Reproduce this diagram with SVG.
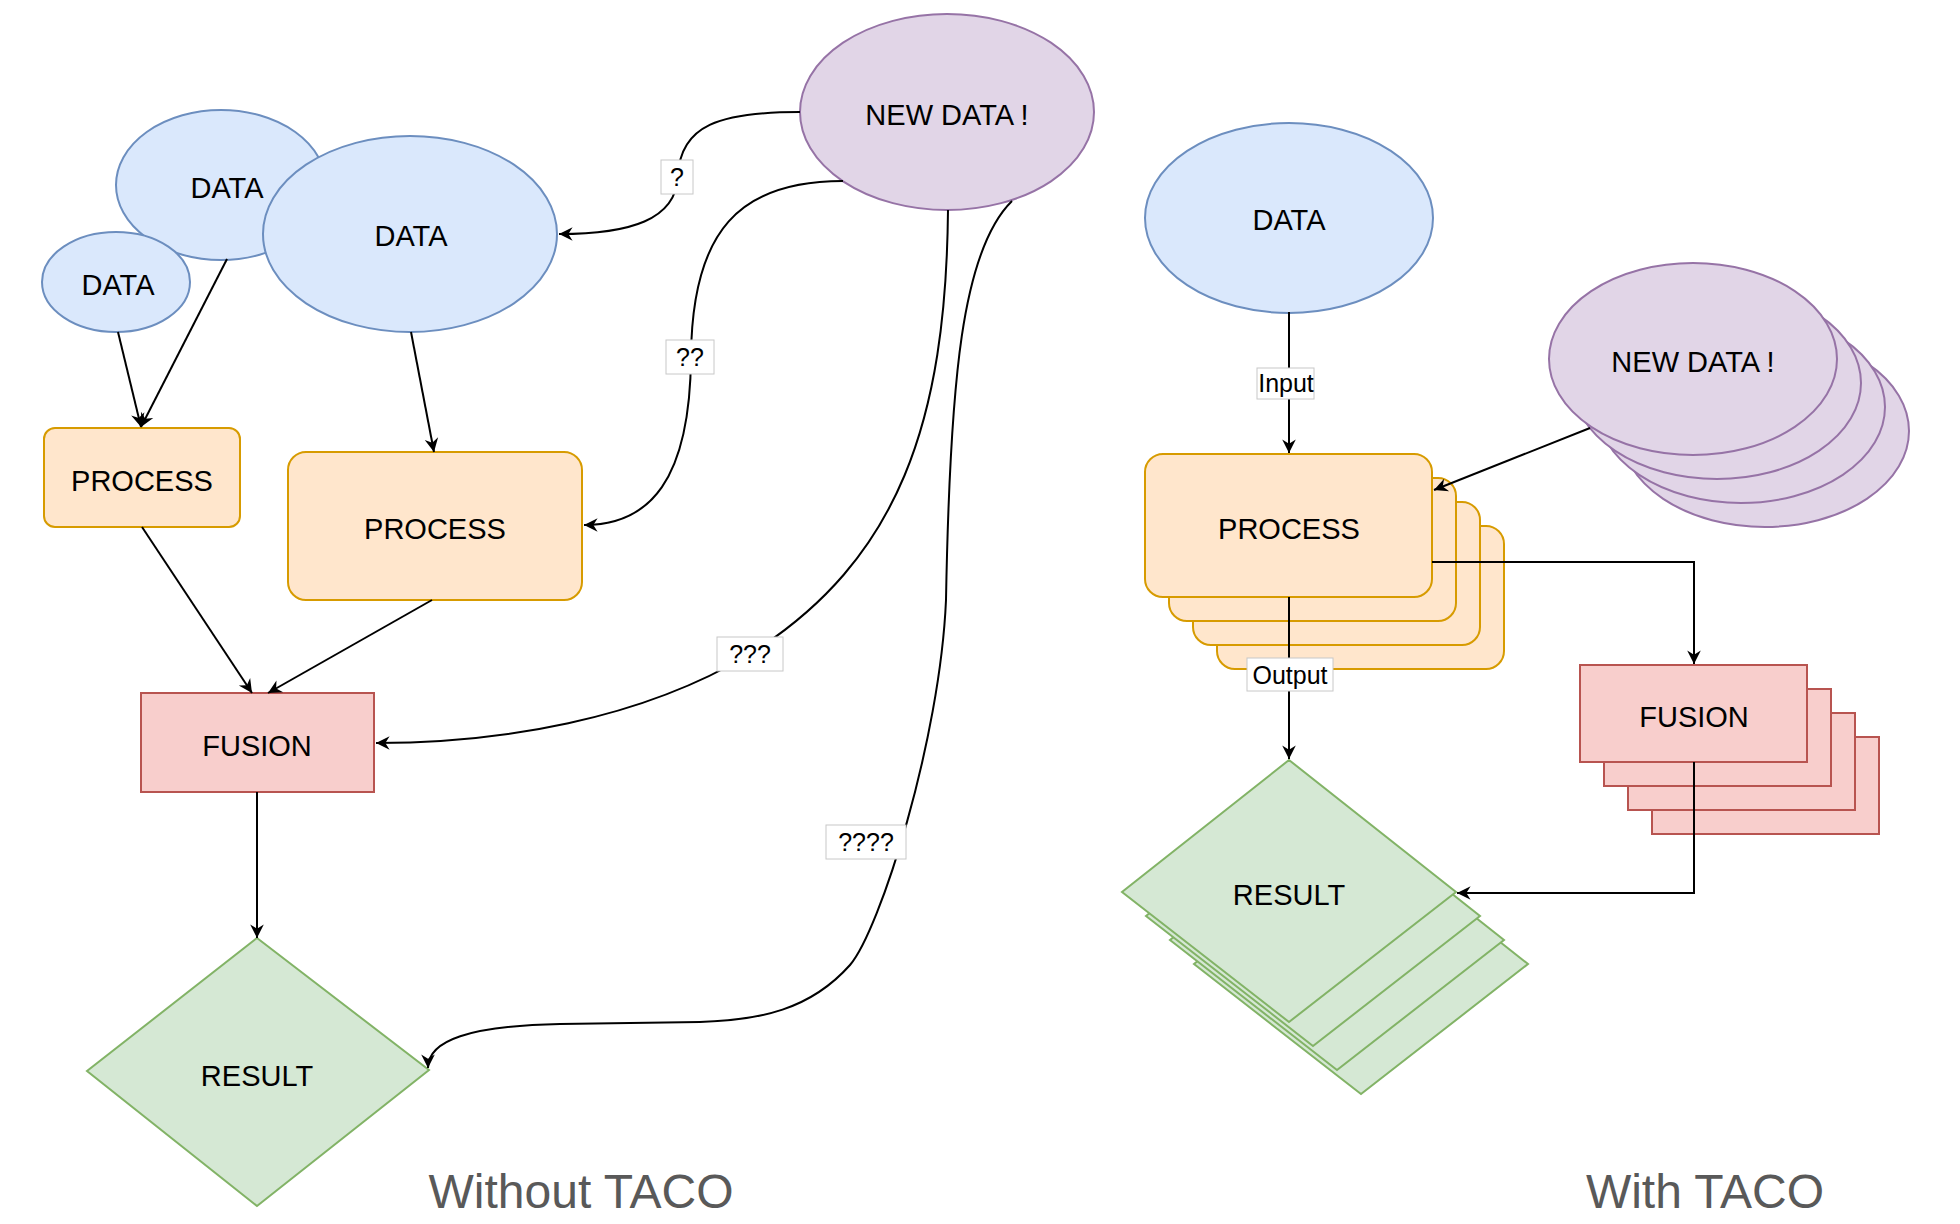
<svg xmlns="http://www.w3.org/2000/svg" width="1960" height="1224" viewBox="0 0 1960 1224">
<style>
.data{fill:#dae8fc;stroke:#6c8ebf;stroke-width:2}
.newd{fill:#e1d5e7;stroke:#9673a6;stroke-width:2}
.proc{fill:#ffe6cc;stroke:#d79b00;stroke-width:2}
.fus{fill:#f8cecc;stroke:#b85450;stroke-width:2}
.res{fill:#d5e8d4;stroke:#82b366;stroke-width:2}
.t{font-family:"Liberation Sans",Arial,sans-serif;font-size:29px;fill:#000;text-anchor:middle}
.lb{font-family:"Liberation Sans",Arial,sans-serif;font-size:25px;fill:#000;text-anchor:middle}
.lbox{fill:#fff;stroke:#c8c8c8;stroke-width:1}
.title{font-family:"Liberation Sans",Arial,sans-serif;font-size:48px;fill:#595959;text-anchor:middle}
.e{fill:none;stroke:#000;stroke-width:2;marker-end:url(#arr)}
</style>
<defs>
<marker id="arr" viewBox="0 0 20 20" refX="18" refY="10" markerWidth="17" markerHeight="17" markerUnits="userSpaceOnUse" orient="auto">
<path d="M2,2 L18,10 L2,18 L7,10 Z" fill="#000"/>
</marker>
</defs>
<rect width="1960" height="1224" fill="#fff"/>

<g id="data-medium"><ellipse class="data" cx="221" cy="185" rx="105" ry="75"/><text class="t" x="227" y="198">DATA</text></g>
<g id="data-small"><ellipse class="data" cx="116" cy="282" rx="74" ry="50"/><text class="t" x="118" y="295">DATA</text></g>
<g id="data-big"><ellipse class="data" cx="410" cy="234" rx="147" ry="98"/><text class="t" x="411" y="246">DATA</text></g>
<g id="newdata-left"><ellipse class="newd" cx="947" cy="112" rx="147" ry="98"/><text class="t" x="947" y="125">NEW DATA !</text></g>
<g id="process-small"><rect class="proc" x="44" y="428" width="196" height="99" rx="11"/><text class="t" x="142" y="491">PROCESS</text></g>
<g id="process-big"><rect class="proc" x="288" y="452" width="294" height="148" rx="18"/><text class="t" x="435" y="539">PROCESS</text></g>
<g id="fusion-left"><rect class="fus" x="141" y="693" width="233" height="99"/><text class="t" x="257" y="756">FUSION</text></g>
<g id="result-left"><polygon class="res" points="257,938 429,1070 257,1206 87,1071"/><text class="t" x="257" y="1086">RESULT</text></g>

<g id="data-right"><ellipse class="data" cx="1289" cy="218" rx="144" ry="95"/><text class="t" x="1289" y="230">DATA</text></g>
<g id="newdata-right">
<ellipse class="newd" cx="1765" cy="431" rx="144" ry="96"/>
<ellipse class="newd" cx="1741" cy="407" rx="144" ry="96"/>
<ellipse class="newd" cx="1717" cy="383" rx="144" ry="96"/>
<ellipse class="newd" cx="1693" cy="359" rx="144" ry="96"/>
<text class="t" x="1693" y="372">NEW DATA !</text></g>
<g id="process-right">
<rect class="proc" x="1217" y="526" width="287" height="143" rx="18"/>
<rect class="proc" x="1193" y="502" width="287" height="143" rx="18"/>
<rect class="proc" x="1169" y="478" width="287" height="143" rx="18"/>
<rect class="proc" x="1145" y="454" width="287" height="143" rx="18"/>
<text class="t" x="1289" y="539">PROCESS</text></g>
<g id="fusion-right">
<rect class="fus" x="1652" y="737" width="227" height="97"/>
<rect class="fus" x="1628" y="713" width="227" height="97"/>
<rect class="fus" x="1604" y="689" width="227" height="97"/>
<rect class="fus" x="1580" y="665" width="227" height="97"/>
<text class="t" x="1694" y="727">FUSION</text></g>
<g id="result-right">
<polygon class="res" points="1361,832 1528,964 1361,1094 1194,964"/>
<polygon class="res" points="1337,808 1504,940 1337,1070 1170,940"/>
<polygon class="res" points="1313,784 1480,916 1313,1046 1146,916"/>
<polygon class="res" points="1289,760 1456,892 1289,1022 1122,892"/>
<text class="t" x="1289" y="905">RESULT</text></g>

<g id="connectors">
<path class="e" d="M118,332 L141,427"/>
<path class="e" d="M227,259 L141,427"/>
<path class="e" d="M411,332 L434,452"/>
<path class="e" d="M142,527 L252,693"/>
<path class="e" d="M432,600 L268,693"/>
<path class="e" d="M257,792 L257,938"/>
<path class="e" d="M800,112 C720,112 680,125 678,176 C676,220 630,234 559,234"/>
<path class="e" d="M843,181 C740,181 692,230 691,357 C690,480 650,525 584,525"/>
<path class="e" d="M948,210 C946,420 900,560 750,654 C640,720 500,743 376,743"/>
<path class="e" d="M1012,201 C962,250 950,380 946,600 C940,740 880,930 850,965 C810,1010 760,1020 700,1022 L560,1024 C470,1026 428,1040 428,1068"/>
<path class="e" d="M1289,312 L1289,453"/>
<path class="e" d="M1590,428 L1434,490"/>
<path class="e" d="M1432,562 L1694,562 L1694,664"/>
<path class="e" d="M1289,597 L1289,759"/>
<path class="e" d="M1694,762 L1694,893 L1457,893"/>
<rect class="lbox" x="661" y="160" width="32" height="34"/><text class="lb" x="677" y="186">?</text>
<rect class="lbox" x="666" y="340" width="48" height="34"/><text class="lb" x="690" y="366">??</text>
<rect class="lbox" x="717" y="637" width="66" height="34"/><text class="lb" x="750" y="663">???</text>
<rect class="lbox" x="826" y="825" width="80" height="34"/><text class="lb" x="866" y="851">????</text>
<rect class="lbox" x="1257" y="368" width="57" height="31"/><text class="lb" x="1286" y="392">Input</text>
<rect class="lbox" x="1247" y="658" width="86" height="33"/><text class="lb" x="1290" y="684">Output</text>
</g>

<text class="title" x="581" y="1208">Without TACO</text>
<text class="title" x="1705" y="1208">With TACO</text>
</svg>
